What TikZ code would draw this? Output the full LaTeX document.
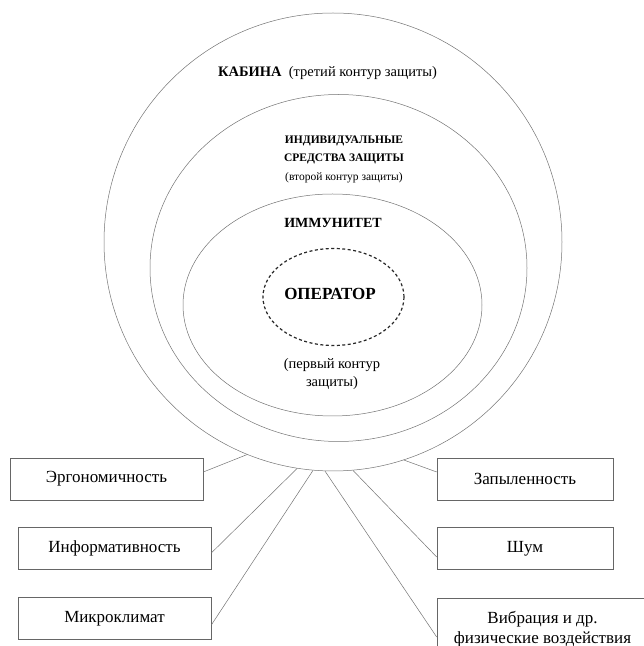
\documentclass[tikz,border=0pt]{standalone}
\usepackage{fontspec}
\setmainfont{Liberation Serif}
\usepackage{tikz}

\begin{document}
\begin{tikzpicture}[x=10pt,y=10pt,
  ring/.style={draw=black!55,line width=.5pt},
  factor/.style={draw=black!60,line width=.6pt,inner sep=0pt,minimum height=42pt,
    font=\fontsize{17}{20}\selectfont,align=center},
  link/.style={draw=black!55,line width=.5pt}]
\useasboundingbox (0,0) rectangle (64.4,64.6);
\clip (0,0) rectangle (64.4,64.6);
% contours
\node[circle,ring,minimum size=458pt,inner sep=0pt] (cabin) at (33.3,40.4) {};
\draw[ring] (33.85,37.8) ellipse (18.85 and 17.35);
\draw[ring] (33.25,34.1) ellipse (14.95 and 11.1);
\draw[black!85,line width=1.2pt,dash pattern=on 3pt off 2.5pt] (33.35,34.9) ellipse (7.05 and 4.85);
% labels inside
\node (cabintxt) at (32.75,57.3) {\fontsize{14.5}{17}\selectfont\textbf{КАБИНА}\ \ (третий контур защиты)};
\node[align=center,font=\fontsize{11.5}{18.5}\selectfont] (ppe) at (34.4,48.7)
  {\textbf{ИНДИВИДУАЛЬНЫЕ}\\\textbf{СРЕДСТВА ЗАЩИТЫ}\\(второй контур защиты)};
\node[font=\fontsize{14}{16}\selectfont\bfseries] (immune) at (33.3,42.3) {ИММУНИТЕТ};
\node[font=\fontsize{17}{20}\selectfont\bfseries] (operator) at (33.0,35.2) {ОПЕРАТОР};
\node[align=center,font=\fontsize{14.5}{18}\selectfont] (first) at (33.2,27.2) {(первый контур\\защиты)};
% factors
\node[factor,minimum width=193pt] (ergo) at (10.65,16.7) {Эргономичность};
\node[factor,minimum width=193pt] (info) at (11.45,9.75) {Информативность};
\node[factor,minimum width=193pt] (micro) at (11.45,2.75) {Микроклимат};
\node[factor,minimum width=176pt] (dust) at (52.5,16.7) {Запыленность};
\node[factor,minimum width=176pt] (noise) at (52.5,9.75) {Шум};
\node[factor,minimum width=211pt,minimum height=62pt] (vibr) at (54.25,1.7) {Вибрация и др.\\физические воздействия};
\draw[link] (cabin.248) -- ([yshift=7pt]ergo.east);
\draw[link] (cabin.261) -- ([yshift=-4.5pt]info.east);
\draw[link] (cabin.265.5) -- ([yshift=-6.5pt]micro.east);
\draw[link] (cabin.268) -- ([yshift=-8pt]vibr.west);
\draw[link] (cabin.275) -- ([yshift=-8.5pt]noise.west);
\draw[link] (cabin.288.4) -- ([yshift=7pt]dust.west);
\end{tikzpicture}
\end{document}
